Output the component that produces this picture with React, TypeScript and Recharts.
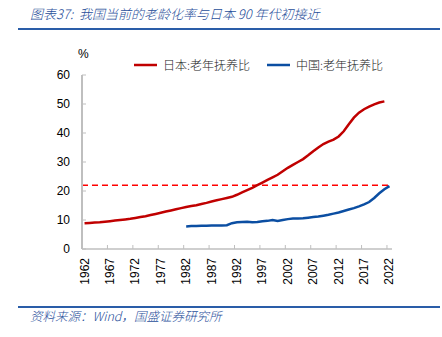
import React from 'react';
import { LineChart, Line, XAxis, YAxis, ReferenceLine, Legend } from 'recharts';

const years = [
  1962, 1963, 1964, 1965, 1966, 1967, 1968, 1969, 1970, 1971,
  1972, 1973, 1974, 1975, 1976, 1977, 1978, 1979, 1980, 1981,
  1982, 1983, 1984, 1985, 1986, 1987, 1988, 1989, 1990, 1991,
  1992, 1993, 1994, 1995, 1996, 1997, 1998, 1999, 2000, 2001,
  2002, 2003, 2004, 2005, 2006, 2007, 2008, 2009, 2010, 2011,
  2012, 2013, 2014, 2015, 2016, 2017, 2018, 2019, 2020, 2021,
  2022,
];

// Japan old-age dependency ratio, 1962-2021
const japanValues = [
  8.9, 9.0, 9.1, 9.2, 9.4, 9.6, 9.8, 10.0, 10.2, 10.4,
  10.7, 11.0, 11.3, 11.7, 12.1, 12.5, 12.9, 13.3, 13.7, 14.1,
  14.5, 14.8, 15.1, 15.5, 15.9, 16.4, 16.8, 17.2, 17.6, 18.0,
  18.7, 19.5, 20.3, 21.1, 22.0, 22.9, 23.8, 24.7, 25.6, 26.8,
  28.0, 29.0, 30.0, 31.0, 32.3, 33.7, 35.0, 36.2, 37.0, 37.7,
  38.8, 40.6, 43.0, 45.3, 47.0, 48.2, 49.1, 49.9, 50.5, 50.9,
];
const japanStart = 1962;

// China old-age dependency ratio, 1982-2022
const chinaValues = [
  7.8, 7.9, 7.9, 8.0, 8.0, 8.1, 8.1, 8.1, 8.2, 8.9,
  9.2, 9.3, 9.4, 9.2, 9.3, 9.6, 9.7, 10.0, 9.7, 10.0,
  10.3, 10.5, 10.5, 10.6, 10.8, 11.0, 11.2, 11.5, 11.8, 12.2,
  12.6, 13.1, 13.6, 14.1, 14.7, 15.4, 16.2, 17.6, 19.2, 20.6,
  21.7,
];
const chinaStart = 1982;

const referenceValue = 22;
const xTicks = [1962, 1967, 1972, 1977, 1982, 1987, 1992, 1997, 2002, 2007, 2012, 2017, 2022];
const yTicks = [0, 10, 20, 30, 40, 50, 60];

const japanName = '日本:老年抚养比';
const chinaName = '中国:老年抚养比';
const legendOrder = [japanName, chinaName];
const titleText = '图表37:  我国当前的老龄化率与日本 90 年代初接近';
const sourceText = '资料来源：Wind，国盛证券研究所';

const data = years.map((year) => {
  const ji = year - japanStart;
  const ci = year - chinaStart;
  return {
    year,
    japan: ji >= 0 && ji < japanValues.length ? japanValues[ji] : null,
    china: ci >= 0 && ci < chinaValues.length ? chinaValues[ci] : null,
  };
});

const RED = '#C00000';
const BLUE = '#0B4EA2';
const AXIS = '#BFBFBF';
const TITLE_BLUE = '#1F4E9A';
const TICK_FONT = '"Liberation Sans", Arial, sans-serif';
const CJK_FONT = '"Noto Sans CJK SC", sans-serif';

const Y_MARGIN = 12;
const X_MARGIN = 9;
const HALF_BAND = 2.5;

const YTick = (props: any) => {
  const { x, y, payload } = props;
  const ax = x + Y_MARGIN;
  return (
    <g>
      <line x1={ax} x2={ax + 4} y1={y} y2={y} stroke={AXIS} strokeWidth={1} />
      <text x={x} y={y} textAnchor="end" dominantBaseline="central" fontSize={12} fontFamily={TICK_FONT} fill="#000">
        {payload.value}
      </text>
    </g>
  );
};

const XTick = (props: any) => {
  const { x, y, payload } = props;
  const ay = y - X_MARGIN;
  const tx = x - HALF_BAND;
  return (
    <g>
      <line x1={tx} x2={tx} y1={ay} y2={ay - 4} stroke={AXIS} strokeWidth={1} />
      <text
        x={x}
        y={y}
        transform={`rotate(-90, ${x}, ${y})`}
        textAnchor="end"
        dominantBaseline="central"
        fontSize={12}
        fontFamily={TICK_FONT}
        fill="#000"
      >
        {payload.value}
      </text>
    </g>
  );
};

const LegendContent = (props: any) => {
  const payload = [...(props.payload || [])].sort(
    (a: any, b: any) => legendOrder.indexOf(a.value) - legendOrder.indexOf(b.value)
  );
  return (
    <div style={{ display: 'flex', alignItems: 'center', gap: 17 }}>
      {payload.map((p: any) => (
        <div key={p.value} style={{ display: 'flex', alignItems: 'center' }}>
          <svg width={23} height={4} style={{ marginRight: 6 }}>
            <line x1={0} x2={23} y1={2} y2={2} stroke={p.color} strokeWidth={2.5} />
          </svg>
          <span style={{ fontFamily: CJK_FONT, fontSize: 12, fontWeight: 300, color: '#222', lineHeight: '14px' }}>{p.value}</span>
        </div>
      ))}
    </div>
  );
};

export default function App() {
  return (
    <div style={{ position: 'absolute', left: 0, top: 0, width: 442, height: 337, background: '#fff', overflow: 'hidden' }}>
      <div
        style={{
          position: 'absolute',
          left: 30,
          top: 5,
          fontFamily: CJK_FONT,
          fontStyle: 'italic',
          fontWeight: 300,
          fontSize: 13,
          color: TITLE_BLUE,
          whiteSpace: 'pre',
          lineHeight: '18px',
        }}
      >
        {titleText}
      </div>
      <div style={{ position: 'absolute', left: 18, top: 27.5, width: 422, height: 2, background: '#2A5DA8' }} />
      <div
        style={{
          position: 'absolute',
          left: 78,
          top: 47,
          fontFamily: TICK_FONT,
          fontSize: 12,
          color: '#000',
          lineHeight: '14px',
        }}
      >
        %
      </div>
      <LineChart width={442} height={337} data={data} margin={{ top: 75, right: 50, left: 0, bottom: 48 }}>
        <XAxis
          dataKey="year"
          type="number"
          domain={[1961.5, 2022.5]}
          ticks={xTicks}
          interval={0}
          axisLine={{ stroke: AXIS, strokeWidth: 1.5 }}
          tickLine={false}
          tickSize={0}
          tickMargin={X_MARGIN}
          tick={<XTick />}
          height={40}
        />
        <YAxis
          type="number"
          domain={[0, 60]}
          ticks={yTicks}
          interval={0}
          axisLine={{ stroke: AXIS, strokeWidth: 2 }}
          tickLine={false}
          tickSize={0}
          tickMargin={Y_MARGIN}
          tick={<YTick />}
          width={82}
        />
        <ReferenceLine y={referenceValue} stroke="#FF0000" strokeWidth={1.5} strokeDasharray="6 4" />
        <Legend
          verticalAlign="middle"
          layout="horizontal"
          wrapperStyle={{ top: 58, left: 134, width: 300, height: 16 }}
          content={<LegendContent />}
        />
        <Line
          name={japanName}
          dataKey="japan"
          stroke={RED}
          strokeWidth={2.5}
          dot={false}
          isAnimationActive={false}
          connectNulls={false}
        />
        <Line
          name={chinaName}
          dataKey="china"
          stroke={BLUE}
          strokeWidth={2.5}
          dot={false}
          isAnimationActive={false}
          connectNulls={false}
        />
      </LineChart>
      <div style={{ position: 'absolute', left: 18, top: 305.5, width: 422, height: 2, background: '#2A5DA8' }} />
      <div
        style={{
          position: 'absolute',
          left: 30,
          top: 307,
          fontFamily: CJK_FONT,
          fontStyle: 'italic',
          fontWeight: 300,
          fontSize: 12.5,
          color: TITLE_BLUE,
          whiteSpace: 'pre',
          lineHeight: '18px',
        }}
      >
        {sourceText}
      </div>
    </div>
  );
}
